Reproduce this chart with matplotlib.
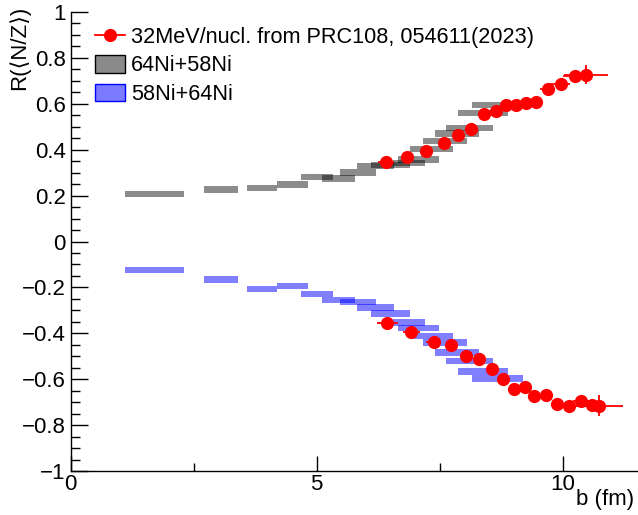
import matplotlib
matplotlib.use("Agg")
import matplotlib.pyplot as plt
from matplotlib.lines import Line2D
from matplotlib.patches import Patch
from matplotlib.ticker import MultipleLocator, FixedLocator
import numpy as np

plt.rcParams['font.family'] = ['Liberation Sans', 'DejaVu Sans']

# ---- model bands: impact parameter bins (centre, half width) and ratio ----
band_b = [1.71, 2.86, 3.20, 3.89, 4.51, 5.01, 5.45, 5.84, 6.20, 6.50,
          6.88, 7.07, 7.34, 7.61, 7.86, 8.11, 8.38, 8.68]
band_berr = [0.60, 0.145, 0.20, 0.305, 0.315, 0.325, 0.335, 0.365, 0.38, 0.395,
             0.325, 0.415, 0.435, 0.445, 0.445, 0.48, 0.505, 0.52]
band_64_58 = [0.208, 0.227, 0.227, 0.232, 0.249, 0.281, 0.275, 0.300, 0.329, 0.333,
              0.343, 0.358, 0.402, 0.439, 0.471, 0.495, 0.559, 0.595]
band_58_64 = [-0.123, -0.166, -0.166, -0.206, -0.193, -0.229, -0.255, -0.264, -0.288, -0.314,
              -0.353, -0.378, -0.412, -0.441, -0.483, -0.521, -0.567, -0.597]
band_Rerr = 0.014

# ---- experimental data (PRC108, 054611) ----
exp_up_b = [6.41, 6.83, 7.23, 7.59, 7.87, 8.15, 8.40, 8.64, 8.86, 9.05,
            9.25, 9.47, 9.70, 9.96, 10.25, 10.48]
exp_up_R = [0.348, 0.369, 0.394, 0.428, 0.463, 0.489, 0.554, 0.569, 0.593, 0.593,
            0.602, 0.607, 0.663, 0.685, 0.720, 0.727]
exp_up_berr = [0.16, 0.10, 0.10, 0.10, 0.10, 0.10, 0.10, 0.10, 0.10, 0.10,
               0.10, 0.10, 0.15, 0.19, 0.25, 0.45]
exp_up_Rerr = [0.01, 0.01, 0.01, 0.01, 0.01, 0.01, 0.01, 0.01, 0.01, 0.01,
               0.01, 0.01, 0.01, 0.015, 0.02, 0.042]

exp_lo_b = [6.44, 6.93, 7.38, 7.74, 8.04, 8.31, 8.57, 8.80, 9.01, 9.23,
            9.43, 9.66, 9.88, 10.13, 10.37, 10.59, 10.74]
exp_lo_R = [-0.356, -0.394, -0.437, -0.452, -0.499, -0.513, -0.557, -0.598, -0.641, -0.633,
            -0.672, -0.670, -0.708, -0.717, -0.694, -0.712, -0.715]
exp_lo_berr = [0.21, 0.17, 0.15, 0.10, 0.10, 0.10, 0.10, 0.10, 0.10, 0.10,
               0.10, 0.10, 0.10, 0.10, 0.16, 0.10, 0.49]
exp_lo_Rerr = [0.01, 0.01, 0.01, 0.01, 0.01, 0.01, 0.01, 0.01, 0.01, 0.01,
               0.01, 0.01, 0.01, 0.01, 0.01, 0.02, 0.046]

legend_labels = ["32MeV/nucl. from PRC108, 054611(2023)", "64Ni+58Ni", "58Ni+64Ni"]

W, H = 638, 515
fig = plt.figure(figsize=(W / 100, H / 100), dpi=100)
ax = fig.add_axes([70.5 / W, (H - 471) / H, (W - 70.5) / W, (471 - 12) / H])

bb = np.array(band_b)
be = np.array(band_berr)
ax.bar(bb, 2 * band_Rerr, width=2 * be, bottom=np.array(band_64_58) - band_Rerr,
       color='black', alpha=0.45, linewidth=0, zorder=2)
ax.bar(bb, 2 * band_Rerr, width=2 * be, bottom=np.array(band_58_64) - band_Rerr,
       color='#0000ff', alpha=0.5, linewidth=0, zorder=2)

ekw = dict(fmt='o', color='red', ms=9.5, mew=0, elinewidth=1.3, capsize=2.5,
           capthick=1.3, zorder=3)
ax.errorbar(exp_up_b, exp_up_R, xerr=exp_up_berr, yerr=exp_up_Rerr, **ekw)
ax.errorbar(exp_lo_b, exp_lo_R, xerr=exp_lo_berr, yerr=exp_lo_Rerr, **ekw)

ax.set_xlim(0, (W - 70.5) / 49.2)
ax.set_ylim(-1, 1)
for s in ['top', 'right']:
    ax.spines[s].set_visible(False)
for s in ['left', 'bottom']:
    ax.spines[s].set_linewidth(1.0)

ax.xaxis.set_major_locator(FixedLocator([0, 5, 10]))
ax.xaxis.set_minor_locator(FixedLocator([2.5, 7.5]))
ax.yaxis.set_minor_locator(MultipleLocator(0.05))
ax.set_yticks(np.arange(-1, 1.01, 0.2))
ax.set_yticklabels(['\u22121', '\u22120.8', '\u22120.6', '\u22120.4', '\u22120.2', '0',
                    '0.2', '0.4', '0.6', '0.8', '1'])
ax.tick_params(axis='y', which='major', direction='in', length=12, width=1,
               labelsize=16, pad=3.5)
ax.tick_params(axis='y', which='minor', direction='in', length=6.5, width=1)
ax.tick_params(axis='x', which='major', direction='in', length=11, width=1,
               labelsize=16, pad=2)
ax.tick_params(axis='x', which='minor', direction='in', length=5.5, width=1)

fig.text(19 / W, 1 - 6 / H, 'R(\u27e8N/Z\u27e9)', rotation=90, ha='center', va='top',
         fontsize=16)
fig.text(634 / W, 1 - 500 / H, 'b (fm)', ha='right', va='center', fontsize=16)

handles = [Line2D([], [], color='red', marker='o', ms=9.5, mew=0, lw=1.3),
           Patch(facecolor='#8a8a8a', edgecolor='black', linewidth=1),
           Patch(facecolor='#7b7bff', edgecolor='#0000ff', linewidth=1)]
leg = ax.legend(handles, legend_labels, loc='upper left',
                bbox_to_anchor=(95 / W, 1 - 27 / H), bbox_transform=fig.transFigure,
                frameon=False, fontsize=15.6, borderpad=0, borderaxespad=0,
                handlelength=1.4, handleheight=0.85, handletextpad=0.25,
                labelspacing=0.33)

fig.savefig('out.png', dpi=100)
